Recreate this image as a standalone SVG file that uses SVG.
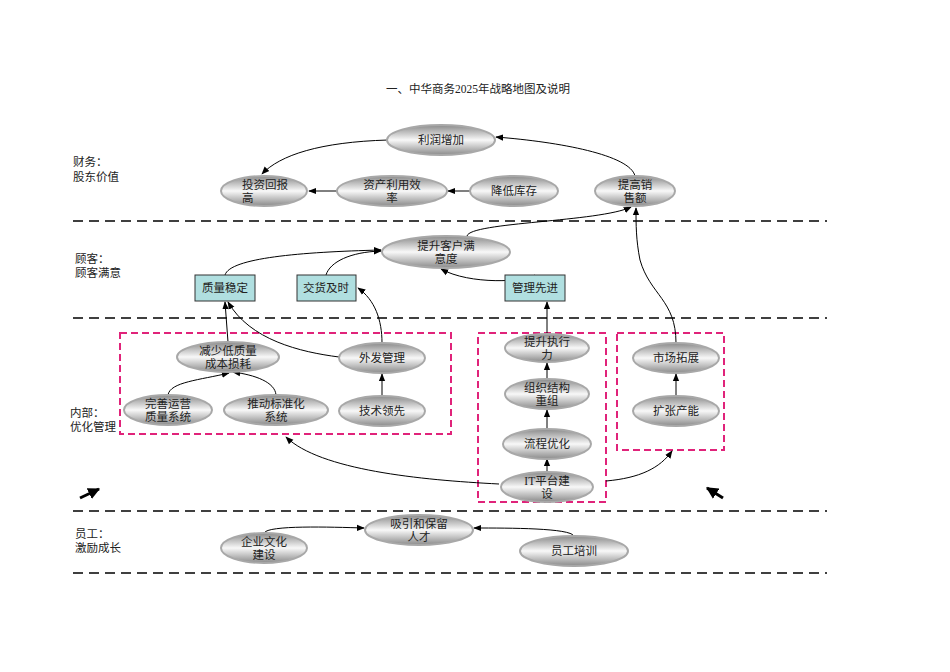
<svg xmlns="http://www.w3.org/2000/svg" width="950" height="672" viewBox="0 0 950 672">
<defs>
<linearGradient id="g" x1="0" y1="0" x2="0" y2="1">
<stop offset="0" stop-color="#8a8a8a"/><stop offset="0.5" stop-color="#f8f8f8"/><stop offset="1" stop-color="#8a8a8a"/>
</linearGradient>
<marker id="a" viewBox="0 0 10 10" refX="9" refY="5" markerWidth="8" markerHeight="8" orient="auto-start-reverse"><path d="M0,1 L10,5 L0,9 z" fill="#000"/></marker>
<marker id="b" viewBox="0 0 10 10" refX="9" refY="5" markerWidth="4" markerHeight="4" orient="auto"><path d="M0,0 L10,5 L0,10 z" fill="#000"/></marker>
<style>
text{font-family:"Liberation Serif","Noto Sans CJK SC",serif;font-size:11.5px;fill:#222}
.n ellipse{fill:url(#g);stroke:#a8a8a8;stroke-width:2}
.n text{text-anchor:middle}
.r rect{fill:#b0dfe0;stroke:#333;stroke-width:1}
.c path{fill:none;stroke:#000;stroke-width:1;marker-end:url(#a)}
.d{stroke:#000;stroke-width:1.5;stroke-dasharray:10,6}
.p{fill:none;stroke:#e0237a;stroke-width:2;stroke-dasharray:7,4}
.l{font-size:11.5px}
</style>
</defs>
<rect width="950" height="672" fill="#fff"/>
<text x="478" y="93" text-anchor="middle">一、中华商务2025年战略地图及说明</text>
<g>
<line class="d" x1="73" y1="221" x2="827" y2="221"/>
<line class="d" x1="73" y1="318" x2="827" y2="318"/>
<line class="d" x1="73" y1="511" x2="827" y2="511"/>
<line class="d" x1="73" y1="573" x2="827" y2="573"/>
<rect class="p" x="120" y="333" width="331" height="101"/>
<rect class="p" x="478" y="333" width="128" height="169"/>
<rect class="p" x="617" y="333" width="107" height="117"/>
</g>
<g class="l">
<text x="73" y="166">财务：</text><text x="73" y="181">股东价值</text>
<text x="75" y="263">顾客：</text><text x="75" y="277">顾客满意</text>
<text x="70" y="417">内部：</text><text x="70" y="431">优化管理</text>
<text x="75" y="538">员工：</text><text x="75" y="552">激励成长</text>
</g>
<g class="c">
<path d="M388,140 C320,142 280,155 262,174"/>
<path d="M337,191 L309,191"/>
<path d="M470,191 L448,191"/>
<path d="M635,176 C630,155 560,142 496,137"/>
<path d="M467,236 C470,222 600,222 631,207"/>
<path d="M676,343 C676,300 650,295 640,260 C636,240 636,225 636,208"/>
<path d="M225,275 C230,258 300,252 381,250"/>
<path d="M326,275 C330,262 350,252 381,251"/>
<path d="M535,275 C525,282 470,285 441,269"/>
<path d="M547,334 L547,302"/>
<path d="M228,342 L225,302"/>
<path d="M339,357 C300,352 250,340 228,302"/>
<path d="M382,343 C382,320 375,300 358,288"/>
<path d="M382,396 L382,374"/>
<path d="M168,395 C170,382 200,380 229,373"/>
<path d="M276,395 C275,382 255,375 233,372"/>
<path d="M547,379 L547,363"/>
<path d="M547,429 L547,410"/>
<path d="M547,472 L547,459"/>
<path d="M676,396 L676,374"/>
<path d="M499,484 C420,480 320,470 286,437"/>
<path d="M606,481 C640,478 660,468 672,451"/>
<path d="M264,533 C268,525 330,527 364,528"/>
<path d="M574,536 C570,528 510,528 474,528"/>
</g>
<g>
<line x1="80" y1="498" x2="99" y2="489" stroke="#000" stroke-width="3" marker-end="url(#b)"/>
<line x1="723" y1="498" x2="707" y2="488" stroke="#000" stroke-width="3" marker-end="url(#b)"/>
</g>
<g id="n1" class="n"><ellipse cx="441" cy="140" rx="54" ry="15"/><text x="441" y="144">利润增加</text></g>
<g id="n2" class="n"><ellipse cx="264" cy="191" rx="43" ry="15"/><text x="242" y="189" style="text-anchor:start">投资回报</text><text x="242" y="202" style="text-anchor:start">高</text></g>
<g id="n3" class="n"><ellipse cx="392" cy="191" rx="55" ry="15"/><text x="392" y="189">资产利用效</text><text x="392" y="202">率</text></g>
<g id="n4" class="n"><ellipse cx="514" cy="191" rx="44" ry="15"/><text x="514" y="195">降低库存</text></g>
<g id="n5" class="n"><ellipse cx="635" cy="191" rx="40" ry="15"/><text x="635" y="189">提高销</text><text x="635" y="202">售额</text></g>
<g id="n6" class="n"><ellipse cx="446" cy="252" rx="64" ry="16"/><text x="446" y="250">提升客户满</text><text x="446" y="263">意度</text></g>
<g id="r1" class="r"><rect x="195" y="275" width="60" height="26"/><text x="225" y="292" text-anchor="middle">质量稳定</text></g>
<g id="r2" class="r"><rect x="297" y="275" width="59" height="26"/><text x="326" y="292" text-anchor="middle">交货及时</text></g>
<g id="r3" class="r"><rect x="505" y="275" width="60" height="26"/><text x="535" y="292" text-anchor="middle">管理先进</text></g>
<g id="n7" class="n"><ellipse cx="228" cy="357" rx="51" ry="15"/><text x="228" y="355">减少低质量</text><text x="228" y="368">成本损耗</text></g>
<g id="n8" class="n"><ellipse cx="382" cy="358" rx="43" ry="15"/><text x="382" y="362">外发管理</text></g>
<g id="n9" class="n"><ellipse cx="168" cy="410" rx="44" ry="15"/><text x="168" y="408">完善运营</text><text x="168" y="421">质量系统</text></g>
<g id="n10" class="n"><ellipse cx="276" cy="410" rx="52" ry="15"/><text x="276" y="408">推动标准化</text><text x="276" y="421">系统</text></g>
<g id="n11" class="n"><ellipse cx="382" cy="411" rx="43" ry="15"/><text x="382" y="415">技术领先</text></g>
<g id="n12" class="n"><ellipse cx="547" cy="348" rx="42" ry="14"/><text x="547" y="346">提升执行</text><text x="547" y="359">力</text></g>
<g id="n13" class="n"><ellipse cx="547" cy="394" rx="42" ry="15"/><text x="547" y="392">组织结构</text><text x="547" y="405">重组</text></g>
<g id="n14" class="n"><ellipse cx="547" cy="444" rx="44" ry="15"/><text x="547" y="448">流程优化</text></g>
<g id="n15" class="n"><ellipse cx="547" cy="487" rx="46" ry="15"/><text x="547" y="485">IT平台建</text><text x="547" y="498">设</text></g>
<g id="n16" class="n"><ellipse cx="676" cy="358" rx="43" ry="15"/><text x="676" y="362">市场拓展</text></g>
<g id="n17" class="n"><ellipse cx="676" cy="411" rx="43" ry="15"/><text x="676" y="415">扩张产能</text></g>
<g id="n18" class="n"><ellipse cx="419" cy="530" rx="54" ry="15"/><text x="419" y="528">吸引和保留</text><text x="419" y="541">人才</text></g>
<g id="n19" class="n"><ellipse cx="264" cy="548" rx="43" ry="15"/><text x="264" y="546">企业文化</text><text x="264" y="559">建设</text></g>
<g id="n20" class="n"><ellipse cx="574" cy="551" rx="54" ry="15"/><text x="574" y="555">员工培训</text></g>
</svg>
